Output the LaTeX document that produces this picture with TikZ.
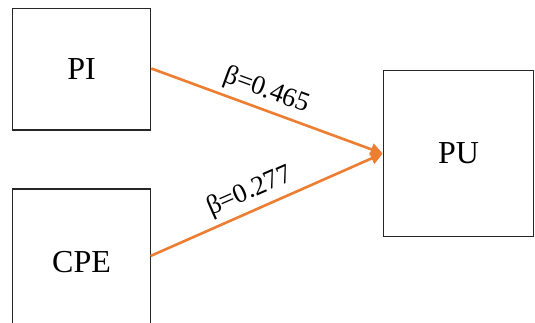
\documentclass[tikz,border=0pt]{standalone}
\usepackage{fontspec}
\setmainfont{Liberation Serif}
\usetikzlibrary{arrows.meta}
\definecolor{arroworange}{HTML}{ED7D31}
\begin{document}
\begin{tikzpicture}[x=1pt,y=-1pt,
  box/.style={draw=black!85,line width=1.6pt,minimum width=138pt,inner sep=0pt,font=\fontsize{32}{32}\selectfont},
  link/.style={draw=arroworange,line width=2.6pt,-{Triangle[length=12pt,width=12pt]}},
  coef/.style={font=\fontsize{27}{27}\selectfont,sloped,above=5pt,inner sep=0pt}]
\useasboundingbox (0,0) rectangle (535,323);
\node[box,minimum height=121.5pt] (pi) at (81.5,69.25) {PI};
\draw[draw=black!85,line width=1.6pt] (12.5,340) |- (150.5,189) -- (150.5,340);
\node[font=\fontsize{32}{32}\selectfont] (cpe) at (81.5,262) {CPE};
\coordinate (cpeout) at (150.5,256);
\node[box,minimum width=150pt,minimum height=166pt] (pu) at (458.5,153.5) {PU};
\draw[link] (pi.east |- 0,68.5) -- node[coef,pos=0.47] {β=0.465} (pu.west);
\draw[link] (cpeout) -- node[coef,pos=0.46] {β=0.277} (pu.west);
\end{tikzpicture}
\end{document}
